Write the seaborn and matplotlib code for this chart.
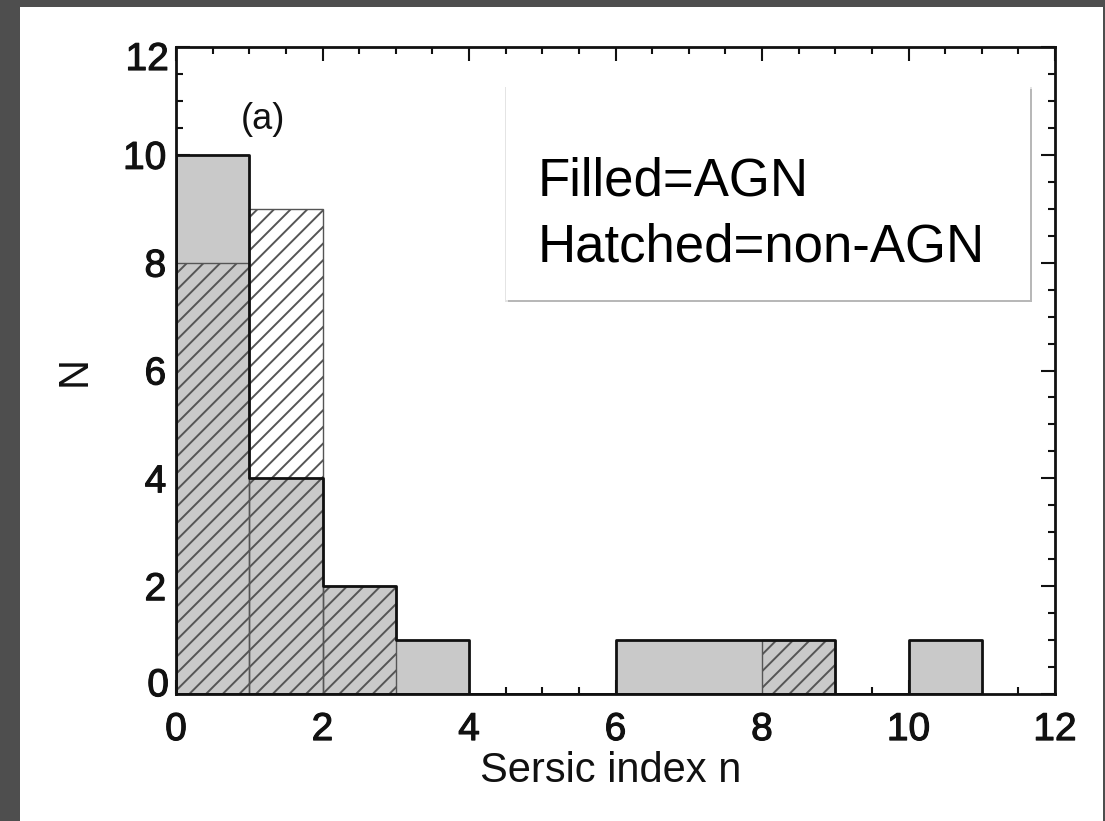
import numpy as np
import pandas as pd
import matplotlib
matplotlib.use("Agg")
import matplotlib.pyplot as plt
import matplotlib.patheffects as pe
from matplotlib.patches import Rectangle
from matplotlib.ticker import MultipleLocator
import seaborn as sns

# ---- data ----
bin_edges = [0, 1, 2, 3, 4, 5, 6, 7, 8, 9, 10, 11]
agn_counts = [10, 4, 2, 1, 0, 0, 1, 1, 1, 0, 1]        # filled (AGN)
nonagn_counts = [8, 9, 2, 0, 0, 0, 0, 0, 1, 0, 0]      # hatched (non-AGN)
x_ticks = [0, 2, 4, 6, 8, 10, 12]
y_ticks = [0, 2, 4, 6, 8, 10, 12]
x_label = "Sersic index n"
y_label = "N"
panel_tag = "(a)"
legend_lines = ["Filled=AGN", "Hatched=non-AGN"]

sns.set_style("ticks")
plt.rcParams["font.family"] = ["Liberation Sans", "DejaVu Sans"]
plt.rcParams["hatch.linewidth"] = 1.4

INK = "#111111"
heavy = [pe.withStroke(linewidth=0.8, foreground=INK)]

W, H = 1105, 821
fig = plt.figure(figsize=(W / 100, H / 100), dpi=100, facecolor="#4e4e4e")

# white slide panel
fig.add_artist(Rectangle((20 / W, 0), (1103 - 20) / W, (H - 7) / H,
                         transform=fig.transFigure, facecolor="white",
                         edgecolor="none", zorder=-5))

ax = fig.add_axes([176 / W, 1 - 694 / H, (1055 - 176) / W, (694 - 47) / H])
ax.set_facecolor("white")

centers = [(a + b) / 2 for a, b in zip(bin_edges[:-1], bin_edges[1:])]
df = pd.DataFrame({"n": centers, "agn": agn_counts, "non": nonagn_counts})

# AGN filled
sns.histplot(data=df, x="n", weights="agn", bins=list(bin_edges), element="step",
             fill=True, color="#c9c9c9", edgecolor="none", linewidth=0,
             alpha=1, ax=ax)
# non-AGN hatched
sns.histplot(data=df, x="n", weights="non", bins=list(bin_edges), element="bars",
             fill=False, color="#555555", linewidth=1.0, hatch="//",
             alpha=1, ax=ax)
# AGN outline on top
sns.histplot(data=df, x="n", weights="agn", bins=list(bin_edges), element="step",
             fill=True, color=INK, facecolor="none", edgecolor=INK,
             linewidth=2.0, alpha=1, ax=ax)

ax.set_xlim(0, 12)
ax.set_ylim(0, 12)
ax.set_xticks(x_ticks)
ax.set_yticks(y_ticks)
# end labels of the y axis are drawn inset (IDL style) below
ax.set_yticklabels(["" if v in (y_ticks[0], y_ticks[-1]) else str(v) for v in y_ticks])
ax.xaxis.set_minor_locator(MultipleLocator(0.5))
ax.yaxis.set_minor_locator(MultipleLocator(0.5))
ax.tick_params(which="both", direction="in", top=True, right=True,
               colors=INK, width=1.5)
ax.tick_params(which="major", length=10)
ax.tick_params(which="minor", length=5)
ax.tick_params(axis="x", which="major", labelsize=28, pad=13)
ax.tick_params(axis="y", which="major", labelsize=28, pad=7)
for sp in ax.spines.values():
    sp.set_linewidth(2.0)
    sp.set_color(INK)

for lab in ax.get_xticklabels() + ax.get_yticklabels():
    lab.set_path_effects(heavy)

blend = ax.get_yaxis_transform()
ax.annotate(str(y_ticks[-1]), xy=(0, y_ticks[-1]), xycoords=blend,
            xytext=(-5.1, -6.5), textcoords="offset points", ha="right",
            va="center_baseline", fontsize=28, color=INK, path_effects=heavy)
ax.annotate(str(y_ticks[0]), xy=(0, y_ticks[0]), xycoords=blend,
            xytext=(-5.1, 8.5), textcoords="offset points", ha="right",
            va="center_baseline", fontsize=28, color=INK, path_effects=heavy)

ax.set_xlabel(x_label, fontsize=30, color=INK)
ax.set_ylabel(y_label, fontsize=30, color=INK)
ax.xaxis.set_label_coords(0.494, -0.088)
ax.yaxis.set_label_coords(-0.093, 0.5)

ax.text(1.19, 10.65, panel_tag, fontsize=26, ha="center", va="center",
        color=INK)

# legend box: faint left edge, darker right edge / shadow
bx0, by0, bx1, by1 = 506, 87, 1030, 300
fig.add_artist(Rectangle(((bx0 - 1) / W, 1 - (by1 + 2) / H), (bx1 - bx0 + 3) / W,
                         (by1 - by0 + 2) / H, transform=fig.transFigure,
                         facecolor="#e4e4e4", edgecolor="none", zorder=2))
fig.add_artist(Rectangle(((bx0 + 2) / W, 1 - (by1 + 2) / H), (bx1 - bx0) / W,
                         (by1 - by0) / H, transform=fig.transFigure,
                         facecolor="#b8b8b8", edgecolor="none", zorder=2.05))
fig.add_artist(Rectangle((bx0 / W, 1 - by1 / H), (bx1 - bx0) / W,
                         (by1 - by0) / H, transform=fig.transFigure,
                         facecolor="white", edgecolor="none", zorder=2.1))
fig.text(538 / W, 1 - 195 / H, legend_lines[0], fontsize=38, va="baseline",
         ha="left", color="black", zorder=3)
fig.text(538 / W, 1 - 262 / H, legend_lines[1], fontsize=38, va="baseline",
         ha="left", color="black", zorder=3)

fig.savefig("out.png", dpi=100, facecolor=fig.get_facecolor())
